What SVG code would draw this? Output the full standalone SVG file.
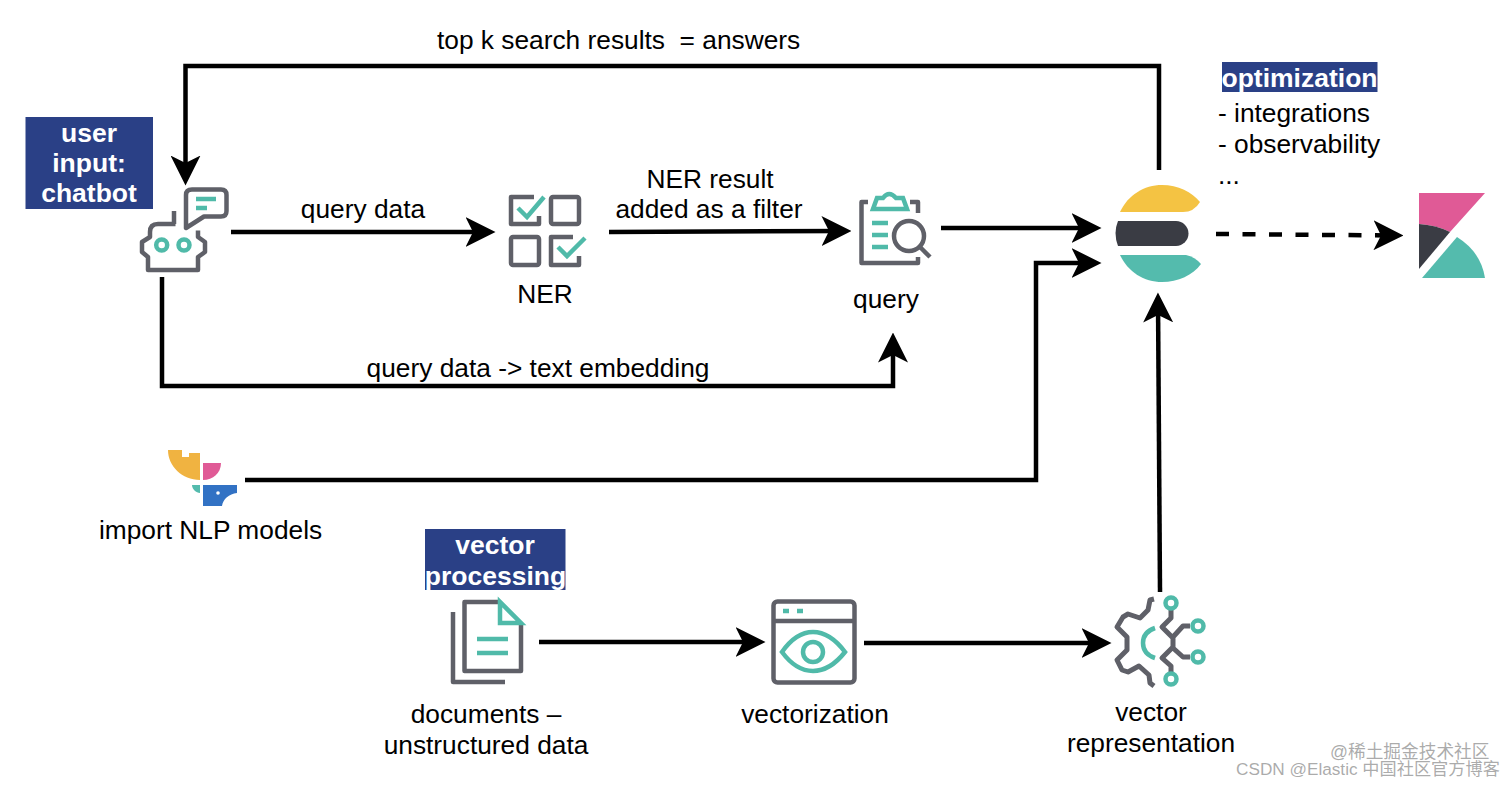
<svg xmlns="http://www.w3.org/2000/svg" width="1512" height="785" viewBox="0 0 1512 785">
<style>
text{font-family:"Liberation Sans",Arial,sans-serif;font-size:26.300px;fill:#000;white-space:pre}
.m{text-anchor:middle}
.b{font-weight:700;fill:#fff;font-size:26.500px;text-anchor:middle}
.bar{fill:#2a4086}
.c{fill:none;stroke:#000;stroke-width:4.500}
.g{fill:none;stroke:#5f6068;stroke-width:4.500;stroke-linejoin:round}
.t{fill:none;stroke:#50baa9;stroke-width:4.500}
.w{font-size:17.500px;fill:#8f8f8f;fill-opacity:.75;font-family:"Liberation Sans","Noto Sans CJK SC",sans-serif}
</style>
<defs>
<marker id="a" markerUnits="userSpaceOnUse" markerWidth="30" markerHeight="30" viewBox="0 0 28 28" refX="21" refY="14" orient="auto">
<path d="M0,0L28,14L0,28L7,14Z" fill="#000"/>
</marker>
</defs>
<rect width="1512" height="785" fill="#fff"/>
<g id="connectors">
<path class="c" marker-end="url(#a)" d="M1159,170V66H185.500V178"/>
<path class="c" marker-end="url(#a)" d="M231,232H488"/>
<path class="c" marker-end="url(#a)" d="M609,232L844,231"/>
<path class="c" marker-end="url(#a)" d="M941,228H1094"/>
<path class="c" marker-end="url(#a)" d="M162,277V386H893V340"/>
<path class="c" marker-end="url(#a)" d="M245,480H1036V263H1094"/>
<path class="c" marker-end="url(#a)" stroke-dasharray="13 13.500" d="M1216,234L1396,235.500"/>
<path class="c" marker-end="url(#a)" d="M539,642H758"/>
<path class="c" marker-end="url(#a)" d="M864,643H1104"/>
<path class="c" marker-end="url(#a)" d="M1160,592L1158,300"/>
</g>
<g id="edge-labels">
<text x="437" y="49">top k search results  = answers</text>
<text x="363" y="218" class="m">query data</text>
<text x="710" y="188" class="m">NER result</text>
<text x="709" y="218" class="m">added as a filter</text>
<text x="538" y="377" class="m">query data -&gt; text embedding</text>
</g>
<g id="chatbot">
<rect class="bar" x="25.500" y="117" width="127.500" height="92"/>
<text class="b" x="89" y="142">user</text>
<text class="b" x="89" y="172">input:</text>
<text class="b" x="89" y="202">chatbot</text>
<path class="g" d="M192,189.500H221Q226.500,189.500 226.500,195V211Q226.500,216.500 221,216.500H204L186,228V195Q186,189.500 192,189.500Z"/>
<path class="t" d="M196,199H216M196,208H207"/>
<path class="g" d="M175.500,224H158Q150,224 150,232V237L142,242V252L148,257V270H198V257L205,252V242L198,237V230.500M174,224V211"/>
<circle class="t" cx="161.700" cy="245" r="5.500"/>
<circle class="t" cx="184" cy="245" r="5.500"/>
</g>
<g id="ner">
<path class="g" d="M534,197H511V224H539V216"/>
<rect class="g" x="551" y="197" width="28" height="27" rx="2"/>
<rect class="g" x="511" y="237" width="28" height="28" rx="2"/>
<path class="g" d="M573,237H551V265H579V256"/>
<path class="t" d="M518,208L527,217L544,197M558,247L567,256L585,238"/>
<text class="m" x="545" y="303">NER</text>
</g>
<g id="query">
<path class="g" d="M868,202H861.500V263H918V257M910,202H918V213"/>
<path class="t" d="M873,209L877,198H883Q889,190 896,198H903L907,209Z"/>
<path class="t" d="M872,223H888M872,235H888M872,247H888"/>
<circle class="g" cx="909" cy="236" r="15"/>
<path class="g" d="M920,247L930,257"/>
<text class="m" x="886" y="308">query</text>
</g>
<g id="elasticsearch">
<path fill="#f4c343" d="M1120,212C1128,195 1144,185 1162,185C1178,185 1192,192 1200,202Q1194,212 1183,212Z"/>
<path fill="#3a3c44" d="M1118,221H1176A12.500,12.500 0 0 1 1176,246H1118Q1113,233 1118,221Z"/>
<path fill="#54bbad" d="M1120,255H1186Q1195,257 1201,264C1193,275 1178,282 1162,282C1144,282 1128,272 1120,255Z"/>
</g>
<g id="optimization">
<rect class="bar" x="1222" y="62" width="155.500" height="30"/>
<text class="b" x="1299.500" y="87">optimization</text>
<text x="1218" y="122">- integrations</text>
<text x="1218" y="153">- observability</text>
<text x="1218" y="184">...</text>
</g>
<g id="kibana">
<path fill="#e05a96" d="M1419,193H1485L1450,232Q1436,225 1419,224Z"/>
<path fill="#3a3c44" d="M1419,224Q1436,225 1450,232L1419,269Z"/>
<path fill="#54bbad" d="M1422,278L1457,237Q1481,252 1485,278Z"/>
</g>
<g id="nlp-models">
<path fill="#f0b341" d="M168,450H182V457H189V453H200V480C182,480 168,466 168,450Z"/>
<path fill="#e05a96" d="M203,463H221C221,473 213,480 203,480Z"/>
<path fill="#54bbad" d="M192,485H200V493C196,493 192,489 192,485Z"/>
<path fill="#3272c4" d="M203,485H237V493C229,494 223,499 222,506H203Z"/>
<circle cx="218" cy="493" r="1.800" fill="#fff"/>
<text x="99" y="539">import NLP models</text>
</g>
<g id="documents">
<rect class="bar" x="425" y="529" width="140.500" height="61"/>
<text class="b" x="495" y="554">vector</text>
<text class="b" x="495.500" y="585">processing</text>
<path class="g" d="M453,612V682H505M500,602H464.500V671H521V623"/>
<path class="t" d="M500,602V623H521Z"/>
<path class="t" d="M477,639H508M477,653H508"/>
<text class="m" x="486" y="723">documents –</text>
<text class="m" x="486" y="754">unstructured data</text>
</g>
<g id="vectorization">
<rect class="g" x="773.500" y="601.500" width="81" height="81" rx="4"/>
<path class="g" d="M773,621H855"/>
<path class="t" d="M783,611H789M797,611H803"/>
<path class="t" d="M782,652Q796,632 813,632Q830,632 845,652Q830,671 813,671Q796,671 782,652Z"/>
<circle class="t" cx="813" cy="652" r="10"/>
<text class="m" x="815" y="723">vectorization</text>
</g>
<g id="vector-representation">
<path class="g" style="stroke-width:5" d="M1154,599L1150,600L1148,610L1140,618L1128,614L1123,617L1117,627L1127,637V650L1117,660L1122,670L1128,672L1139,666L1149,675L1150,683L1154,686"/>
<path class="t" d="M1155,628Q1143,632 1143,643Q1143,654 1155,658"/>
<path class="g" style="stroke-width:5" d="M1171,610V618L1162,627L1173,638V647L1162,658L1171,666V673M1173,637L1183,626H1190M1173,648L1183,657H1190"/>
<circle class="t" cx="1171" cy="603" r="5.500"/>
<circle class="t" cx="1198" cy="626" r="5.500"/>
<circle class="t" cx="1198" cy="657" r="5.500"/>
<circle class="t" cx="1171" cy="679" r="5.500"/>
<text class="m" x="1151" y="721">vector</text>
<text class="m" x="1151" y="752">representation</text>
</g>
<g id="watermark">
<text class="w" x="1330" y="758" style="font-size:17.700px">@稀土掘金技术社区</text>
<text class="w" x="1236" y="775" style="font-size:17.200px">CSDN @Elastic 中国社区官方博客</text>
</g>
</svg>
